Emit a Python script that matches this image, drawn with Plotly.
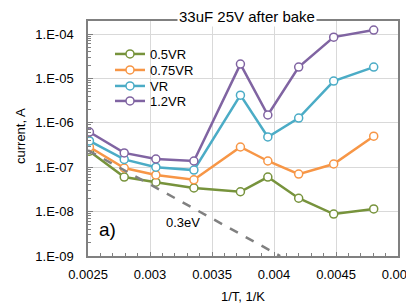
import plotly.graph_objects as go

# Temperatures (deg C) and inverse temperature
temps_c = [125, 85, 55, 25, -5, -20, -35, -50, -65]
inv_t = [1.0 / (t + 273.15) for t in temps_c]

series_names = ["0.5VR", "0.75VR", "VR", "1.2VR"]
i_05vr = [2.3e-7, 6.0e-8, 4.6e-8, 3.4e-8, 2.8e-8, 6.0e-8, 2.0e-8, 8.8e-9, 1.15e-8]
i_075vr = [2.85e-7, 9.6e-8, 6.7e-8, 5.2e-8, 2.85e-7, 1.38e-7, 7.0e-8, 1.18e-7, 5.0e-7]
i_vr = [3.9e-7, 1.5e-7, 1.0e-7, 8.6e-8, 4.2e-6, 4.8e-7, 1.28e-6, 8.7e-6, 1.8e-5]
i_12vr = [6.2e-7, 2.1e-7, 1.53e-7, 1.38e-7, 2.1e-5, 1.5e-6, 1.8e-5, 8.5e-5, 1.23e-4]
colors = ["#77933c", "#f79646", "#4bacc6", "#8064a2"]

# 0.3 eV guide line endpoints
guide_x = [0.0025, 0.00405]
guide_y = [2.4e-7, 1.0e-9]

x_ticks = [0.0025, 0.003, 0.0035, 0.004, 0.0045, 0.005]
x_ticktext = ["0.0025", "0.003", "0.0035", "0.004", "0.0045", "0.005"]
y_ticks = [1e-9, 1e-8, 1e-7, 1e-6, 1e-5, 1e-4]
y_ticktext = ["1.E-09", "1.E-08", "1.E-07", "1.E-06", "1.E-05", "1.E-04"]

FONT = "Liberation Sans, Arial, sans-serif"

# page offset of the plot div (default body margin)
OFF = 8
# plot area in page pixels: x 88..398, y 21..256
W, H = 414 - OFF, 304 - OFF
L, T = 88 - OFF, 21 - OFF
R = W - (398 - OFF)
B = H - (256 - OFF)
PW, PH = W - L - R, H - T - B


def px_x(px):
    return (px - 88) / PW


def px_y(py):
    return (256 - py) / PH


legend_names = ["legend", "legend2", "legend3", "legend4"]
legend_rows = [54, 70, 86, 101]

fig = go.Figure()
for name, vals, col, lg in zip(series_names, [i_05vr, i_075vr, i_vr, i_12vr], colors, legend_names):
    fig.add_trace(go.Scatter(
        x=inv_t, y=vals, name=name, mode="lines+markers",
        line=dict(color=col, width=2.5),
        marker=dict(symbol="circle", size=8, color="white",
                    line=dict(color=col, width=1.5)),
        cliponaxis=True, legend=lg,
    ))

fig.add_trace(go.Scatter(
    x=guide_x, y=guide_y, mode="lines", showlegend=False,
    line=dict(color="#808080", width=2.5, dash="dash"),
))

minor_y = [k * 10.0 ** e for e in range(-9, -3) for k in range(2, 10)]

legend_layout = {}
for lg, row in zip(legend_names, legend_rows):
    legend_layout[lg] = dict(
        x=px_x(110), y=px_y(row), xanchor="left", yanchor="middle",
        bgcolor="rgba(0,0,0,0)", font=dict(size=13), itemwidth=30,
        borderwidth=0,
    )

fig.update_layout(
    width=W, height=H,
    margin=dict(l=L, r=R, t=T, b=B),
    paper_bgcolor="white", plot_bgcolor="white",
    font=dict(family=FONT, size=13, color="black"),
    showlegend=True,
    xaxis=dict(
        range=[0.0025, 0.0050000001], tickvals=x_ticks, ticktext=x_ticktext,
        showgrid=True, gridcolor="#d9d9d9", gridwidth=1,
        showline=True, linecolor="#808080", linewidth=1.5, mirror=True,
        ticks="inside", ticklen=4, tickcolor="#808080",
        minor=dict(dtick=0.0001, ticks="inside", ticklen=3, tickcolor="#808080", showgrid=False),
        zeroline=False, ticklabelstandoff=6, automargin=False,
        ticklabeloverflow="allow",
        title=dict(text="1/T, 1/K", font=dict(size=13), standoff=13),
    ),
    yaxis=dict(
        type="log", range=[-9, -3.707], tickvals=y_ticks, ticktext=y_ticktext,
        showgrid=True, gridcolor="#d9d9d9", gridwidth=1,
        showline=True, linecolor="#808080", linewidth=1.5, mirror=True,
        ticks="inside", ticklen=5, tickcolor="#808080",
        minor=dict(tickvals=minor_y, ticks="inside", ticklen=3, tickcolor="#808080", showgrid=False),
        zeroline=False, ticklabelstandoff=10, automargin=False,
    ),
    annotations=[
        dict(text="current, A", xref="paper", yref="paper",
             x=px_x(20), y=px_y(136), xanchor="center", yanchor="middle",
             textangle=-90, showarrow=False, font=dict(size=13)),
        dict(text="33uF 25V after bake", xref="paper", yref="paper",
             x=px_x(247), y=px_y(16), xanchor="center", yanchor="middle",
             showarrow=False, bgcolor="white", font=dict(size=15),
             borderpad=1),
        dict(text="a)", xref="paper", yref="paper",
             x=px_x(107), y=px_y(229), xanchor="center", yanchor="middle",
             showarrow=False, font=dict(size=19)),
        dict(text="0.3eV", xref="paper", yref="paper",
             x=px_x(183), y=px_y(222), xanchor="center", yanchor="middle",
             showarrow=False, font=dict(size=13)),
    ],
    **legend_layout,
)

fig.write_html("out.html")
